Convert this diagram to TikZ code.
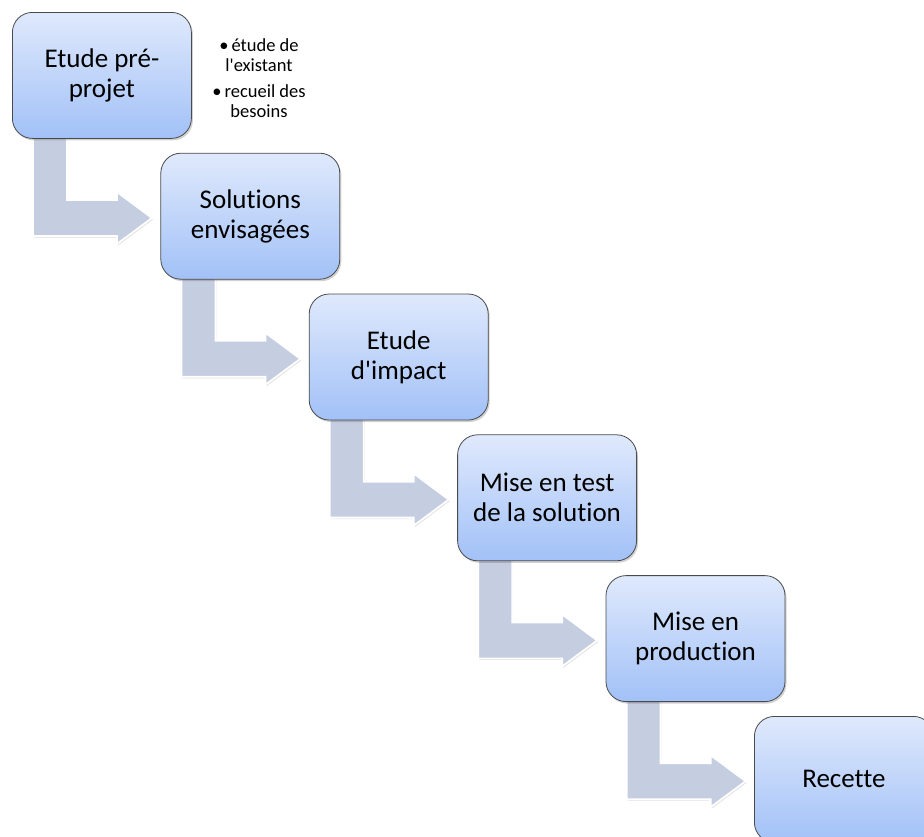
\documentclass[tikz,border=0pt]{standalone}
\usepackage{fontspec}
\setmainfont[Ligatures={NoCommon}]{Carlito}
\usetikzlibrary{calc,shadows,backgrounds}
\definecolor{boxtop}{HTML}{DFE9FC}
\definecolor{boxbot}{HTML}{A2C1F7}
\definecolor{boxline}{HTML}{4A4A4A}
\definecolor{arrowfill}{HTML}{C5CDE0}
\newcommand\bentarrow[1]{%
  \draw[bentshape] ($(#1.north west)+(21,120)$) -- ($(#1.north west)+(21,224)$)
    -- ($(#1.north west)+(105,224)$) -- ($(#1.north west)+(105,232)$)
    -- ($(#1.north west)+(140,206)$) -- ($(#1.north west)+(105,180)$)
    -- ($(#1.north west)+(105,188)$) -- ($(#1.north west)+(55,188)$)
    -- ($(#1.north west)+(55,120)$) -- cycle;}
\begin{document}
\begin{tikzpicture}[x=1pt,y=-1pt,
  stage/.style={draw=boxline, line width=0.8pt, rounded corners=20pt,
    minimum width=179pt, minimum height=126pt, top color=boxtop, bottom color=boxbot,
    align=center, font=\fontsize{27}{30}\selectfont, inner sep=0pt, anchor=north west,
    drop shadow={shadow xshift=1.5pt, shadow yshift=-2pt, opacity=0.3, fill=black!60}},
  bentshape/.style={fill=arrowfill, draw=white, line width=1.8pt, line join=miter,
    drop shadow={shadow xshift=1pt, shadow yshift=-1.5pt, opacity=0.25, fill=black!50}},
  notestyle/.style={font=\fontsize{18.5}{20}\selectfont, align=center, inner sep=0pt}]
\clip (0,0) rectangle (924,836);
\node[stage] (b1) at (12,12) {Etude pré-\\projet};
\node[stage] (b2) at (160.4,152.8) {Solutions\\envisagées};
\node[stage] (b3) at (308.8,293.6) {Etude\\d\textquotesingle impact};
\node[stage] (b4) at (457.2,434.4) {Mise en test\\de la solution};
\node[stage] (b5) at (605.6,575.2) {Mise en\\production};
\node[stage] (b6) at (754,716) {Recette};
\node[notestyle] (notes) at (259,78) {•\,étude de\\l\textquotesingle existant\\[6pt]•\,recueil des\\besoins};
\begin{scope}[on background layer]
\bentarrow{b1}
\bentarrow{b2}
\bentarrow{b3}
\bentarrow{b4}
\bentarrow{b5}
\end{scope}
\end{tikzpicture}
\end{document}
